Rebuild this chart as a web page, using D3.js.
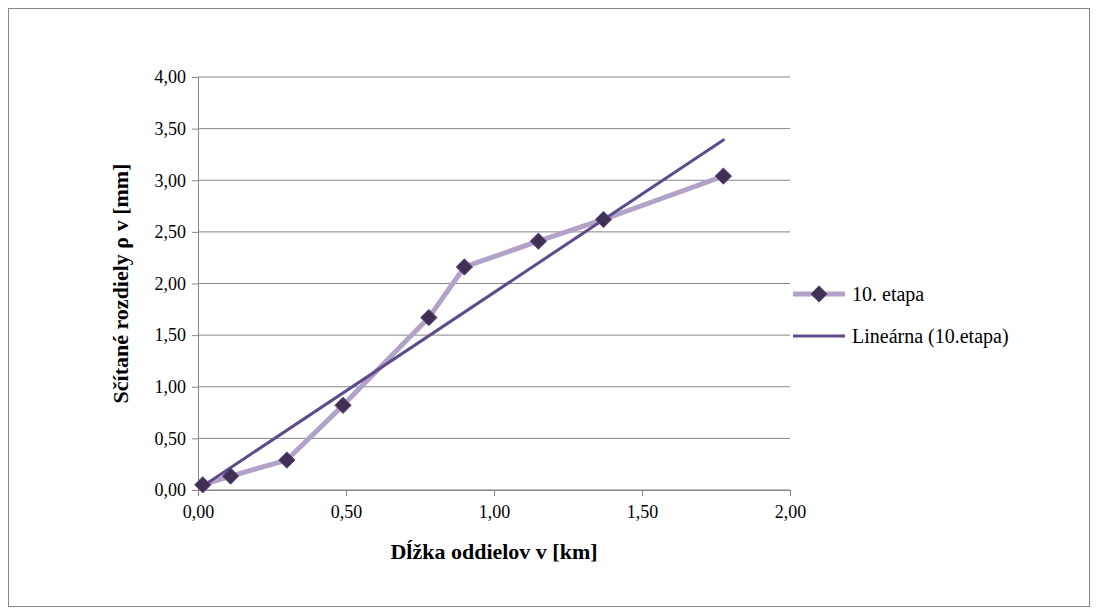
<!DOCTYPE html>
<html><head><meta charset="utf-8">
<script src="https://cdn.jsdelivr.net/npm/d3@7"></script>
<style>body{margin:0;background:#fff;} svg text{font-family:"Liberation Serif","Times New Roman",serif;}</style>
</head><body>
<script>
const xValues = [0.016, 0.11, 0.30, 0.49, 0.78, 0.90, 1.15, 1.37, 1.775];
const yValues = [0.05, 0.135, 0.29, 0.82, 1.67, 2.16, 2.41, 2.62, 3.04];
const xTicks = [0, 0.5, 1, 1.5, 2];
const yTicks = [0, 0.5, 1, 1.5, 2, 2.5, 3, 3.5, 4];
const seriesName = "10. etapa";
const trendName = "Lineárna (10.etapa)";

const width = 1097, height = 616;
const m = {left: 198, right: 790, top: 77, bottom: 490};
const svg = d3.select("body").append("svg").attr("width", width).attr("height", height)
  .attr("font-family", "Liberation Serif");
svg.append("rect").attr("x", 8.5).attr("y", 8.5).attr("width", 1081).attr("height", 598)
  .attr("fill", "#fff").attr("stroke", "#868686");

const x = d3.scaleLinear().domain([0, 2]).range([m.left, m.right]);
const y = d3.scaleLinear().domain([0, 4]).range([m.bottom, m.top]);
const fmt = d => d.toFixed(2).replace(".", ",");

// grid
svg.append("g").selectAll("line").data(yTicks).enter().append("line")
  .attr("x1", m.left).attr("x2", m.right).attr("y1", d => y(d)).attr("y2", d => y(d))
  .attr("stroke", "#868686").attr("stroke-width", 1);

const ax = svg.append("g").attr("transform", "translate(0," + m.bottom + ")")
  .call(d3.axisBottom(x).tickValues(xTicks).tickFormat(fmt).tickSize(6).tickSizeOuter(0));
const ay = svg.append("g").attr("transform", "translate(" + m.left + ",0)")
  .call(d3.axisLeft(y).tickValues(yTicks).tickFormat(fmt).tickSize(6).tickSizeOuter(0));
[ax, ay].forEach(a => {
  a.attr("font-family", "Liberation Serif").attr("font-size", 18);
  a.selectAll("path,line").attr("stroke", "#868686");
  a.selectAll("text").attr("fill", "#000");
});
ax.selectAll("text").attr("dy", "1.05em");
ay.selectAll("text").attr("dx", "-3px");

// data line
const pts = xValues.map((v, i) => [v, yValues[i]]);
svg.append("path").datum(pts).attr("fill", "none").attr("stroke", "#b3a2c7").attr("stroke-width", 5)
  .attr("stroke-linejoin", "round")
  .attr("d", d3.line().x(d => x(d[0])).y(d => y(d[1])));

// linear trend (least squares)
const mx = d3.mean(xValues), my = d3.mean(yValues);
const slope = d3.sum(pts, d => (d[0] - mx) * (d[1] - my)) / d3.sum(pts, d => (d[0] - mx) ** 2);
const icpt = my - slope * mx;
const ext = d3.extent(xValues);
svg.append("line").attr("x1", x(ext[0])).attr("y1", y(icpt + slope * ext[0]))
  .attr("x2", x(ext[1])).attr("y2", y(icpt + slope * ext[1]))
  .attr("stroke", "#5f4b8b").attr("stroke-width", 3).attr("stroke-linecap", "round");

const diamond = d3.symbol().type(d3.symbolDiamond2).size(170);
svg.append("g").selectAll("path").data(pts).enter().append("path")
  .attr("d", diamond).attr("transform", d => "translate(" + x(d[0]) + "," + y(d[1]) + ")")
  .attr("fill", "#403152").attr("stroke", "#5f4b8b").attr("stroke-width", 1);

// titles
svg.append("text").attr("x", (m.left + m.right) / 2).attr("y", 559).attr("text-anchor", "middle")
  .attr("font-size", 22).attr("font-weight", "bold").text("Dĺžka oddielov v [km]");
svg.append("text").attr("transform", "translate(128," + (m.top + m.bottom) / 2 + ") rotate(-90)")
  .attr("text-anchor", "middle").attr("font-size", 22).attr("font-weight", "bold")
  .text("Sčítané rozdiely ρ v [mm]");

// legend
const lg = svg.append("g").attr("font-size", 20);
lg.append("line").attr("x1", 793).attr("x2", 845).attr("y1", 294).attr("y2", 294)
  .attr("stroke", "#b3a2c7").attr("stroke-width", 5);
lg.append("path").attr("d", diamond).attr("transform", "translate(819,294)")
  .attr("fill", "#403152").attr("stroke", "#5f4b8b");
lg.append("text").attr("x", 852).attr("y", 301).text(seriesName);
lg.append("line").attr("x1", 793).attr("x2", 845).attr("y1", 336).attr("y2", 336)
  .attr("stroke", "#5f4b8b").attr("stroke-width", 3);
lg.append("text").attr("x", 852).attr("y", 343).text(trendName);
</script>
</body></html>
